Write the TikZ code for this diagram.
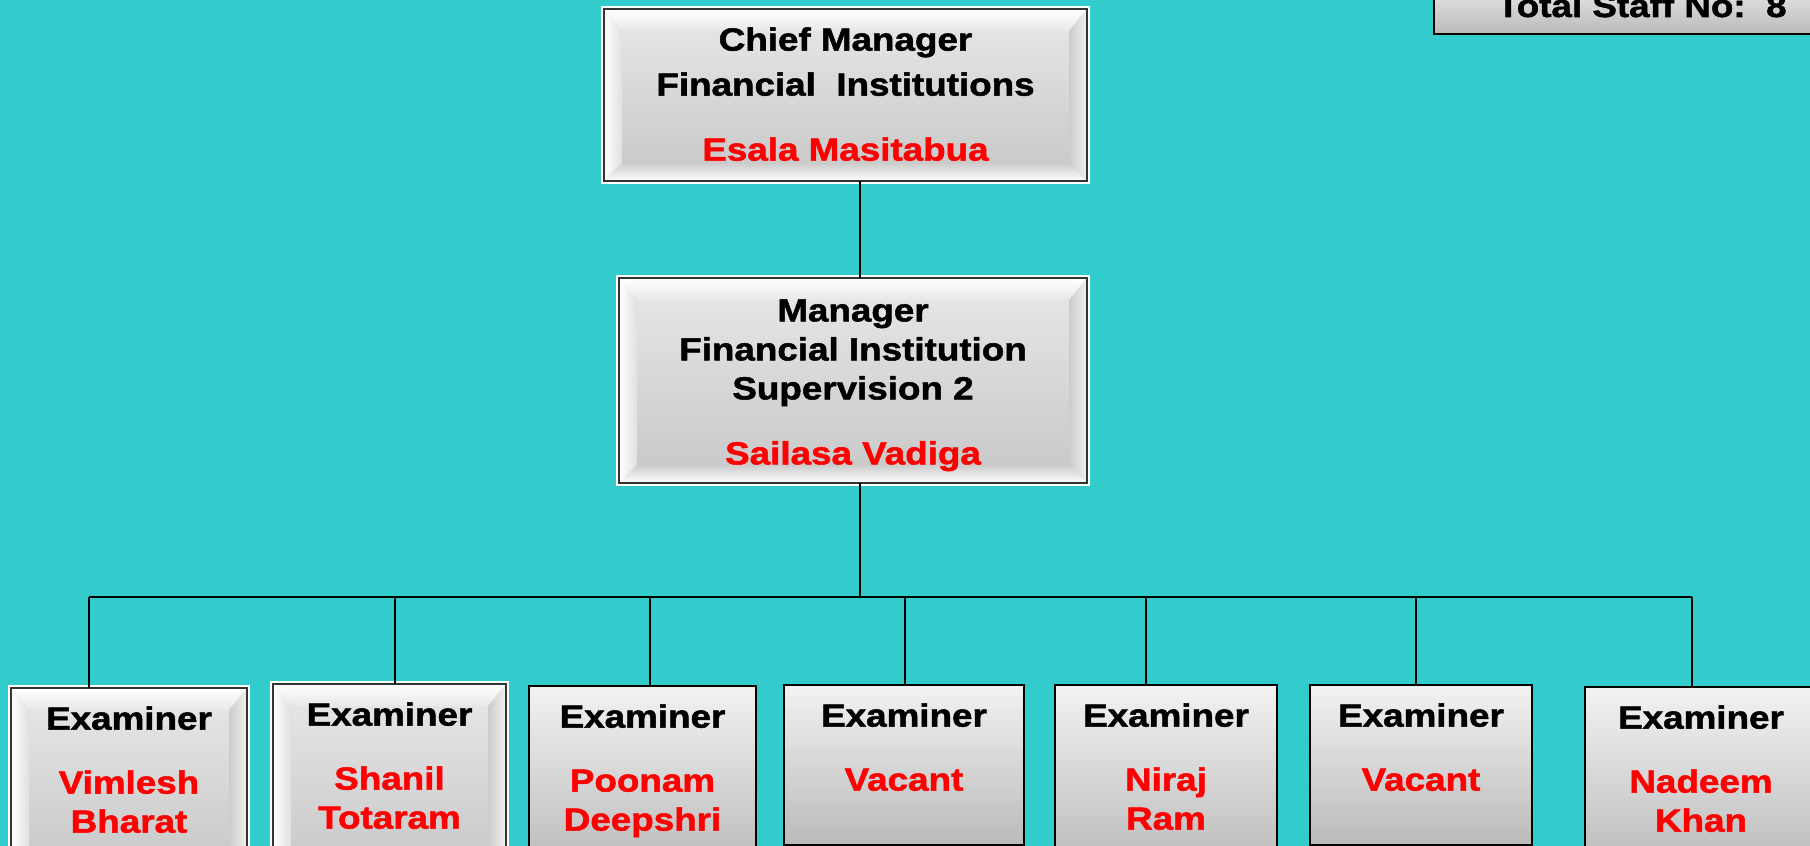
\documentclass[tikz,border=0pt]{standalone}
\usepackage{fontspec}
\setmainfont{Liberation Sans}
\newfontfamily\orgfont{Liberation Sans}[FakeStretch=1.15, BoldFeatures={FakeBold=1.6}]
\usetikzlibrary{positioning}
\definecolor{bgteal}{RGB}{51,204,204}
\definecolor{namered}{RGB}{255,0,0}
\newcommand{\who}[1]{\textcolor{namered}{#1}}

\begin{document}
\begin{tikzpicture}[x=0.5pt,y=0.5pt,
  flatbox/.style={draw=black, line width=1pt, top color=black!5, bottom color=black!27, inner sep=0pt, outer sep=0pt},
  bevelbox/.style={draw=black!80, line width=1.4pt, top color=black!9, bottom color=black!22, inner sep=0pt, outer sep=0pt,
    preaction={draw=white, line width=3.4pt},
    path picture={
      \path (path picture bounding box.north west) coordinate (pnw)
            (path picture bounding box.north east) coordinate (pne)
            (path picture bounding box.south west) coordinate (psw)
            (path picture bounding box.south east) coordinate (pse);
      \shade[top color=white, bottom color=black!9] (pnw) -- (pne) -- ([shift={(-9pt,-11pt)}]pne) -- ([shift={(9pt,-11pt)}]pnw) -- cycle;
      \shade[left color=white, right color=black!12] (pnw) -- ([shift={(9pt,-11pt)}]pnw) -- ([shift={(9pt,9pt)}]psw) -- (psw) -- cycle;
      \shade[left color=black!20, right color=black!6] (pne) -- ([shift={(-9pt,-11pt)}]pne) -- ([shift={(-9pt,9pt)}]pse) -- (pse) -- cycle;
      \shade[top color=black!20, bottom color=white] (psw) -- ([shift={(9pt,9pt)}]psw) -- ([shift={(-9pt,9pt)}]pse) -- (pse) -- cycle;
    }},
  title/.style={font=\orgfont\bfseries\fontsize{16}{19.5}\selectfont, align=center, inner sep=0pt},
  wire/.style={draw=black, line width=1.2pt}
]
%Background
\fill[bgteal] (0,0) rectangle (1810,-846);
\useasboundingbox (0,0) rectangle (1810,-846);

%Chief manager
\node[bevelbox, minimum width=241.5pt, minimum height=86pt] (cm) at (845.5,-95) {};
\node[title, below=9pt of cm.north] (cmtxt) {Chief Manager\\[3pt]Financial\ \ Institutions\\[13pt]\who{Esala Masitabua}};

%Manager
\node[bevelbox, minimum width=234pt, minimum height=102.5pt] (mgr) at (853,-380.5) {};
\node[title, below=10.5pt of mgr.north] (mgrtxt) {Manager\\Financial Institution\\Supervision 2\\[13pt]\who{Sailasa Vadiga}};

%Total staff
\node[flatbox, anchor=south west, minimum width=200pt, minimum height=30pt] (staff) at (1434,-34) {};
\node[title, anchor=base east] (stafftxt) at (1787,-17) {Total Staff No:\ \ 8};

%Examiners
\node[bevelbox, anchor=north, minimum width=118pt, minimum height=92pt] (ex1) at (129,-688) {};
\node[title, below=9pt of ex1.north] (ex1txt) {Examiner\\[12.5pt]\who{Vimlesh}\\\who{Bharat}};
\node[bevelbox, anchor=north, minimum width=116.5pt, minimum height=94pt] (ex2) at (389.5,-684) {};
\node[title, below=9pt of ex2.north] (ex2txt) {Examiner\\[12.5pt]\who{Shanil}\\\who{Totaram}};
\node[flatbox, anchor=north, minimum width=113.5pt, minimum height=92pt] (ex3) at (642.5,-686) {};
\node[title, below=9pt of ex3.north] (ex3txt) {Examiner\\[12.5pt]\who{Poonam}\\\who{Deepshri}};
\node[flatbox, anchor=north, minimum width=120pt, minimum height=80pt] (ex4) at (904,-685) {};
\node[title, below=9pt of ex4.north] (ex4txt) {Examiner\\[12.5pt]\who{Vacant}};
\node[flatbox, anchor=north, minimum width=111pt, minimum height=92pt] (ex5) at (1166,-685) {};
\node[title, below=9pt of ex5.north] (ex5txt) {Examiner\\[12.5pt]\who{Niraj}\\\who{Ram}};
\node[flatbox, anchor=north, minimum width=111pt, minimum height=80pt] (ex6) at (1421,-685) {};
\node[title, below=9pt of ex6.north] (ex6txt) {Examiner\\[12.5pt]\who{Vacant}};
\node[flatbox, anchor=north, minimum width=116pt, minimum height=92pt] (ex7) at (1701,-687) {};
\node[title, below=9pt of ex7.north] (ex7txt) {Examiner\\[12.5pt]\who{Nadeem}\\\who{Khan}};

%Connectors
\coordinate (bus) at (860,-597);
\coordinate (t1) at (89,-597);
\coordinate (t2) at (395,-597);
\coordinate (t3) at (650,-597);
\coordinate (t4) at (905,-597);
\coordinate (t5) at (1146,-597);
\coordinate (t6) at (1416,-597);
\coordinate (t7) at (1692,-597);
\draw[wire] (cm.south -| bus) -- (mgr.north -| bus);
\draw[wire] (mgr.south -| bus) -- (bus);
\draw[wire] (t1) -- (t7);
\draw[wire] (t1) -- (t1 |- ex1.north);
\draw[wire] (t2) -- (t2 |- ex2.north);
\draw[wire] (t3) -- (t3 |- ex3.north);
\draw[wire] (t4) -- (t4 |- ex4.north);
\draw[wire] (t5) -- (t5 |- ex5.north);
\draw[wire] (t6) -- (t6 |- ex6.north);
\draw[wire] (t7) -- (t7 |- ex7.north);
\end{tikzpicture}
\end{document}
